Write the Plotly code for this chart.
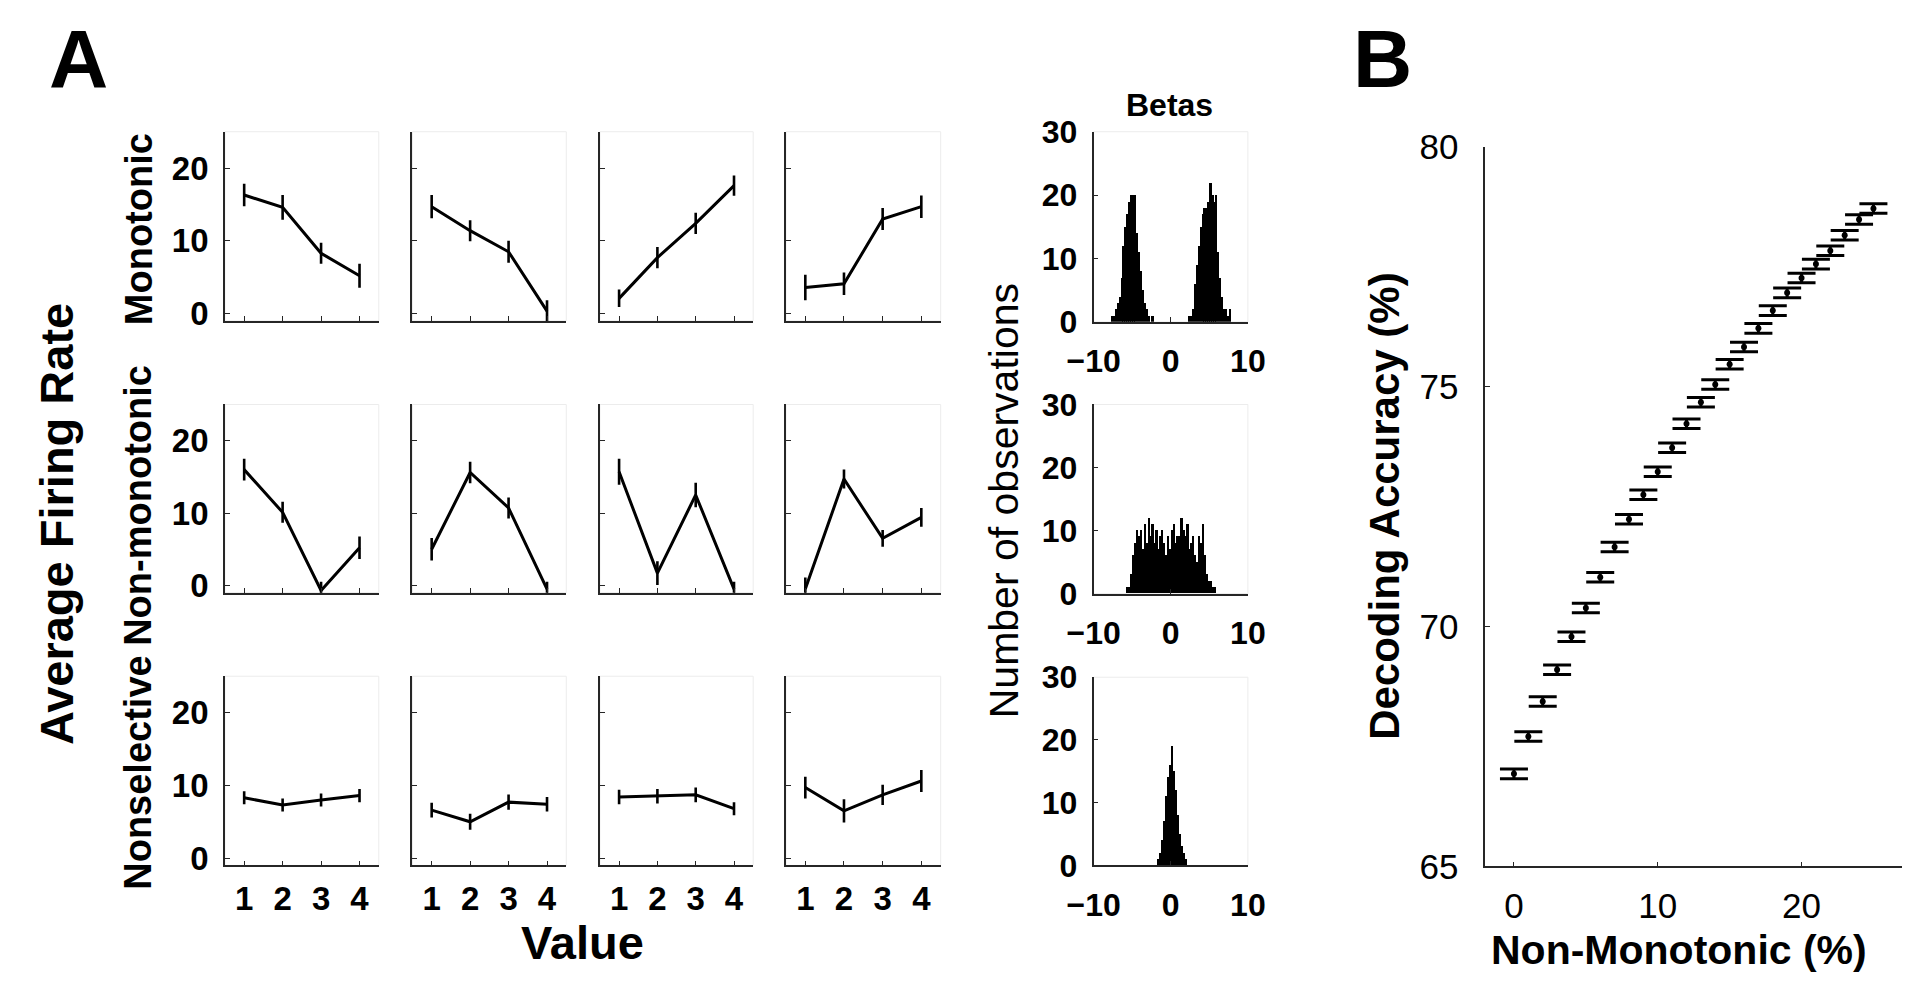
import plotly.graph_objects as go

W, H = 1920, 984
FONT = "Liberation Sans, Arial, Helvetica, sans-serif"
AXCOL = "#262626"

# ---------------- Panel A: tuning curves ----------------
values = [1, 2, 3, 4]

mono_rates = [
    [16.3, 14.6, 8.3, 5.2],
    [14.7, 11.4, 8.5, 0.35],
    [2.1, 7.7, 12.4, 17.6],
    [3.6, 4.1, 13.0, 14.7],
]
mono_err = [
    [1.55, 1.7, 1.45, 1.65],
    [1.6, 1.45, 1.5, 1.5],
    [1.2, 1.45, 1.45, 1.4],
    [1.75, 1.55, 1.5, 1.55],
]
nonmono_rates = [
    [16.0, 10.1, -0.7, 5.2],
    [5.0, 15.6, 10.7, -0.5],
    [15.7, 1.7, 12.5, -0.5],
    [-0.5, 14.7, 6.5, 9.4],
]
nonmono_err = [
    [1.5, 1.45, 1.2, 1.55],
    [1.55, 1.5, 1.45, 1.0],
    [1.8, 1.65, 1.7, 1.0],
    [1.6, 1.3, 1.15, 1.3],
]
nonsel_rates = [
    [8.3, 7.3, 8.0, 8.6],
    [6.6, 5.0, 7.7, 7.4],
    [8.4, 8.5, 8.7, 6.8],
    [9.7, 6.5, 8.7, 10.6],
]
nonsel_err = [
    [0.9, 0.9, 0.9, 0.9],
    [1.0, 1.1, 1.05, 1.0],
    [1.0, 1.0, 1.0, 0.9],
    [1.5, 1.6, 1.4, 1.5],
]
row_names = ["Monotonic", "Non-monotonic", "Nonselective"]

# ---------------- Panel A: beta histograms (bin width 0.25) ----------------
bin_width = 0.25
hist_mono_start = -8.0
hist_mono_counts = [
    0, 1, 1, 2, 3, 4, 7, 12, 15, 17, 19, 20, 20, 20, 14, 11, 8, 5, 3, 2, 1, 0, 1, 0,
    0, 0, 0, 0, 0, 0, 0, 0, 0, 0, 0, 0, 0, 0, 0, 0,
    0, 1, 1, 2, 6, 9, 12, 15, 17, 18, 18, 19, 22, 20, 19, 20, 11, 7, 4, 2, 2, 1, 2, 0,
]
hist_nonmono_start = -6.0
hist_nonmono_counts = [
    0, 1, 1, 3, 6, 8, 10, 9, 10, 7, 11, 8, 12, 9, 11, 8, 10, 7, 9, 10, 8, 6, 9, 7,
    10, 11, 8, 9, 9, 12, 10, 9, 11, 7, 8, 9, 6, 5, 9, 8, 11, 6, 3, 2, 2, 1, 1, 0,
]
hist_nonsel_start = -2.0
hist_nonsel_counts = [0, 1, 2, 4, 7, 11, 14, 16, 19, 15, 12, 8, 5, 3, 2, 1, 0]

# ---------------- Panel B: decoding accuracy ----------------
nonmono_pct = [0, 1, 2, 3, 4, 5, 6, 7, 8, 9, 10, 11, 12, 13, 14, 15, 16, 17, 18, 19, 20, 21, 22, 23, 24, 25]
decoding_acc = [66.93, 67.71, 68.44, 69.10, 69.79, 70.39, 71.03, 71.66, 72.24, 72.75, 73.23, 73.73, 74.23,
                74.68, 75.05, 75.47, 75.83, 76.22, 76.59, 76.96, 77.27, 77.56, 77.84, 78.16, 78.49, 78.72]
decoding_err = [0.1] * len(nonmono_pct)


def fx(px):
    return px / W


def fy(py):
    return 1 - py / H


fig = go.Figure()
layout = dict(width=W, height=H, margin=dict(l=0, r=0, t=0, b=0),
              paper_bgcolor="white", plot_bgcolor="white", showlegend=False)
shapes = []
axis_n = [0]


def new_axes(xdom, ydom, xaxis, yaxis):
    axis_n[0] += 1
    n = axis_n[0]
    xa = "xaxis" if n == 1 else f"xaxis{n}"
    ya = "yaxis" if n == 1 else f"yaxis{n}"
    xr = "x" if n == 1 else f"x{n}"
    yr = "y" if n == 1 else f"y{n}"
    base = dict(showgrid=False, zeroline=False, showline=True, linecolor=AXCOL, linewidth=1.6,
                ticks="inside", ticklen=5, tickwidth=1.2, tickcolor=AXCOL, fixedrange=True)
    layout[xa] = dict(base, domain=[fx(xdom[0]), fx(xdom[1])], anchor=yr, **xaxis)
    layout[ya] = dict(base, domain=[fy(ydom[1]), fy(ydom[0])], anchor=xr, **yaxis)
    return xr, yr


bold_tick = dict(family=FONT, size=33, color="black", weight="bold")

cols_px = [(194.5, 352), (386.5, 544), (578.5, 735.4), (769, 927.4)]
rows_px = [(108, 305), (392, 588), (675, 872)]
row_data = [(mono_rates, mono_err), (nonmono_rates, nonmono_err), (nonsel_rates, nonsel_err)]

for r, (rates, errs) in enumerate(row_data):
    for c in range(4):
        xr, yr = new_axes(
            cols_px[c], rows_px[r],
            dict(range=[0.5, 4.5], tickvals=values, showticklabels=(r == 2),
                 tickfont=bold_tick, ticklabelstandoff=3),
            dict(range=[-1, 25], tickvals=[0, 10, 20], showticklabels=(c == 0),
                 tickfont=bold_tick, ticklabelstandoff=8),
        )
        fig.add_trace(go.Scatter(
            x=values, y=rates[c], mode="lines", xaxis=xr, yaxis=yr,
            line=dict(color="black", width=3),
            error_y=dict(type="data", array=errs[c], visible=True, thickness=2.6, width=0, color="black"),
        ))
        shapes.append(dict(type="rect", xref="paper", yref="paper", layer="below",
                           x0=fx(cols_px[c][0]), x1=fx(cols_px[c][1]),
                           y0=fy(rows_px[r][1]), y1=fy(rows_px[r][0]),
                           line=dict(color="#ececec", width=1)))

# histograms
hist_x = (1084, 1242)
hist_rows = [(108, 306), (392, 589), (676, 872)]
hist_sets = [(hist_mono_start, hist_mono_counts), (hist_nonmono_start, hist_nonmono_counts),
             (hist_nonsel_start, hist_nonsel_counts)]
hist_tick = dict(family=FONT, size=32, color="black", weight="bold")
for r, (start, counts) in enumerate(hist_sets):
    xr, yr = new_axes(
        hist_x, hist_rows[r],
        dict(range=[-10, 10], tickvals=[-10, 0, 10], tickfont=hist_tick, ticklabelstandoff=10),
        dict(range=[0, 30], tickvals=[0, 10, 20, 30], tickfont=hist_tick, ticklabelstandoff=8),
    )
    centers = [start + bin_width * (i + 0.5) for i in range(len(counts))]
    fig.add_trace(go.Bar(x=centers, y=counts, width=bin_width, xaxis=xr, yaxis=yr,
                         marker=dict(color="black", line=dict(width=0))))
    shapes.append(dict(type="rect", xref="paper", yref="paper", layer="below",
                       x0=fx(hist_x[0]), x1=fx(hist_x[1]),
                       y0=fy(hist_rows[r][1]), y1=fy(hist_rows[r][0]),
                       line=dict(color="#ececec", width=1)))

# panel B
reg_tick = dict(family=FONT, size=35, color="black")
xr, yr = new_axes(
    (1485, 1912), (124, 873),
    dict(range=[-2, 27], tickvals=[0, 10, 20], tickfont=reg_tick, ticklabelstandoff=8),
    dict(range=[65, 80], tickvals=[65, 70, 75, 80], tickfont=reg_tick, ticklabelstandoff=18),
)
fig.add_trace(go.Scatter(
    x=nonmono_pct, y=decoding_acc, mode="markers", xaxis=xr, yaxis=yr,
    marker=dict(color="black", size=6),
    error_y=dict(type="data", array=decoding_err, visible=True, thickness=3, width=14, color="black"),
))

layout["bargap"] = 0


def label(text, x, y, size, bold=True, angle=0):
    return dict(text=text, x=fx(x), y=fy(y), xref="paper", yref="paper", showarrow=False,
                xanchor="center", yanchor="middle", textangle=angle,
                font=dict(family=FONT, size=size, color="black", weight="bold" if bold else "normal"))


annotations = [
    label("A", 45, 32, 82),
    label("B", 1380, 32, 82),
    label("Average Firing Rate", 22, 516, 47, angle=-90),
    label("Value", 561, 952, 47),
    label("Betas", 1162, 80, 32),
    label("Number of observations", 992, 492, 41, bold=False, angle=-90),
    label("Decoding Accuracy (%)", 1382, 498, 42, angle=-90),
    label("Non-Monotonic (%)", 1683, 960, 41),
]
for name, y in zip(row_names, [210, 497, 776]):
    annotations.append(label(name, 106, y, 38, angle=-90))

layout["annotations"] = annotations
layout["shapes"] = shapes
fig.update_layout(**layout)

fig.write_html("out.html")
